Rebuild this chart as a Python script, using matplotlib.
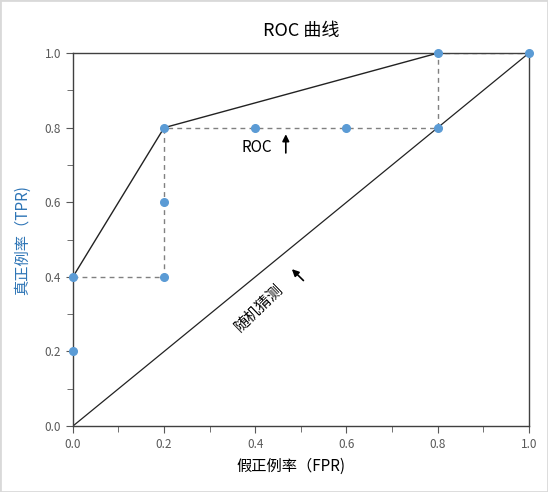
import numpy as np
import matplotlib.pyplot as plt
from matplotlib.ticker import MultipleLocator

plt.rcParams['font.family'] = ['Noto Sans CJK SC', 'DejaVu Sans']

# ROC points
fpr = [0.0, 0.0, 0.2, 0.2, 0.2, 0.4, 0.6, 0.8, 0.8, 1.0]
tpr = [0.2, 0.4, 0.4, 0.6, 0.8, 0.8, 0.8, 0.8, 1.0, 1.0]
# dashed staircase
stair_x = [0.0, 0.2, 0.2, 0.8, 0.8, 1.0]
stair_y = [0.4, 0.4, 0.8, 0.8, 1.0, 1.0]
# convex hull (solid)
hull_x = [0.0, 0.2, 0.8, 1.0]
hull_y = [0.4, 0.8, 1.0, 1.0]
# random guess
diag = [0.0, 1.0]

fig = plt.figure(figsize=(5.48, 4.92), dpi=100)
ax = fig.add_axes([0.133, 0.134, 0.832, 0.758])

ax.plot(stair_x, stair_y, color='#808080', lw=1, ls=(0, (3.5, 3)))
ax.plot(hull_x, hull_y, color='#222222', lw=1)
ax.plot(diag, diag, color='#222222', lw=0.9)
ax.plot(fpr, tpr, 'o', color='#5b9bd5', ms=5.5, zorder=5, clip_on=False)

ax.set_xlim(0, 1)
ax.set_ylim(0, 1)
ax.xaxis.set_major_locator(MultipleLocator(0.2))
ax.xaxis.set_minor_locator(MultipleLocator(0.1))
ax.yaxis.set_major_locator(MultipleLocator(0.2))
ax.yaxis.set_minor_locator(MultipleLocator(0.1))
ax.tick_params(which='both', direction='out', colors='#595959', labelsize=8.5)
ax.tick_params(which='major', length=5)
ax.tick_params(which='minor', length=4)
for s in ax.spines.values():
    s.set_color('#404040')
    s.set_linewidth(1)

ax.set_title('ROC 曲线', fontsize=13, color='black', pad=12)
ax.set_xlabel('假正例率（FPR)', fontsize=11, labelpad=8)
ax.xaxis.set_label_coords(0.478, -0.085)
ax.set_ylabel('真正例率（TPR)', fontsize=11, color='#2e75b6', labelpad=10)

ax.annotate('', xy=(0.467, 0.79), xytext=(0.467, 0.725),
            arrowprops=dict(arrowstyle='-|>', color='black', lw=1.2))
ax.text(0.403, 0.748, 'ROC', fontsize=11, ha='center', va='center')

ax.annotate('', xy=(0.476, 0.426), xytext=(0.51, 0.385),
            arrowprops=dict(arrowstyle='-|>', color='black', lw=1.2))
ax.text(0.408, 0.318, '随机猜测', fontsize=11, ha='center', va='center',
        rotation=44)

fig.patches.append(plt.Rectangle((0, 0), 1, 1, transform=fig.transFigure,
                                 fill=False, edgecolor='#d9d9d9', lw=2))

fig.savefig('out.png', dpi=100)
